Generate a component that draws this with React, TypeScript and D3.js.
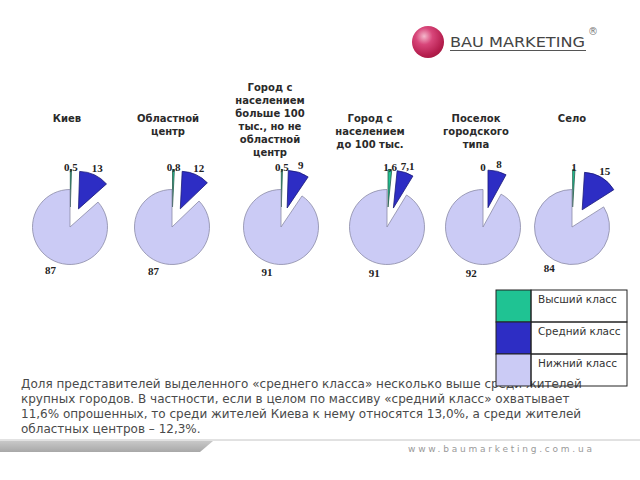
import React from "react";
import * as d3 from "d3";

// category titles, already broken into lines as on the slide
const categoryTitles: string[][] = [
  ["Киев"],
  ["Областной", "центр"],
  ["Город с", "населением", "больше 100", "тыс., но не", "областной", "центр"],
  ["Город с", "населением", "до 100 тыс."],
  ["Поселок", "городского", "типа"],
  ["Село"],
];

// share of each class, %
const upperClass = [0.5, 0.8, 0.5, 1.6, 0, 1];
const middleClass = [13, 12, 9, 7.1, 8, 15];
const lowerClass = [87, 87, 91, 91, 92, 84];

const classNames = ["Высший класс", "Средний класс", "Нижний класс"];

const noteLines = [
  "Доля представителей выделенного «среднего класса» несколько выше среди жителей",
  "крупных городов. В частности, если в целом по массиву «средний класс» охватывает",
  "11,6% опрошенных, то среди жителей Киева к нему относятся 13,0%, а среди жителей",
  "областных центров – 12,3%.",
];

const siteUrl = "www.baumarketing.com.ua";

// layout
const W = 640;
const H = 480;
const pieX = [70, 172, 281, 387, 483, 572];
const titleX = [67, 168, 270, 370, 476, 572];
const pieY = 227;
const R = 37.5;
const EXPLODE = 20;
const colors = ["#1fc393", "#2d2dc4", "#cbcbf5"];
const strokes = ["#2c5a4c", "#1b1b78", "#8a8aa6"];
const labelDist = [R + 22, R + 27, R + 10];

const fmt = (v: number) => String(v).replace(".", ",");

const pie = d3
  .pie<number>()
  .value((d) => d)
  .sort(null);

const arc = d3
  .arc<d3.PieArcDatum<number>>()
  .innerRadius(0)
  .outerRadius(R);

const PieChart = ({ index }: { index: number }) => {
  const values = [upperClass[index], middleClass[index], lowerClass[index]];
  const arcs = pie(values);
  return (
    <g transform={`translate(${pieX[index]},${pieY})`}>
      {arcs.map((a, k) => {
        if (a.value === 0) return null;
        const mid = (a.startAngle + a.endAngle) / 2;
        const off = k < 2 ? EXPLODE : 0;
        return (
          <path
            key={k}
            d={arc(a) || ""}
            transform={`translate(${Math.sin(mid) * off},${-Math.cos(mid) * off})`}
            fill={colors[k]}
            stroke={strokes[k]}
            strokeWidth={0.8}
          />
        );
      })}
      {arcs.map((a, k) => {
        const mid = (a.startAngle + a.endAngle) / 2;
        const d = labelDist[k];
        return (
          <text
            key={"l" + k}
            x={Math.sin(mid) * d}
            y={-Math.cos(mid) * d}
            dy="0.35em"
            textAnchor="middle"
            fontFamily="'Liberation Serif', serif"
            fontWeight="bold"
            fontSize={11}
            fill="#222"
          >
            {fmt(a.data)}
          </text>
        );
      })}
    </g>
  );
};

const Title = ({ index }: { index: number }) => {
  const lines = categoryTitles[index];
  const top = lines.length > 3 ? 87 : 118;
  return (
    <text
      textAnchor="middle"
      fontFamily="'DejaVu Sans', sans-serif"
      fontWeight="bold"
      fontSize={10}
      fill="#2a2a2a"
    >
      {lines.map((l, i) => (
        <tspan key={i} x={titleX[index]} y={top + i * 13} dy="0.35em">
          {l}
        </tspan>
      ))}
    </text>
  );
};

const Legend = () => {
  const x0 = 496;
  const y0 = 290;
  const sw = 35;
  const w = 131;
  const rh = 32;
  return (
    <g>
      {classNames.map((name, i) => (
        <g key={i}>
          <rect x={x0} y={y0 + i * rh} width={sw} height={rh} fill={colors[i]} stroke="#222" strokeWidth={1} />
          <rect x={x0 + sw} y={y0 + i * rh} width={w - sw} height={rh} fill="none" stroke="#222" strokeWidth={1} />
          <text
            x={x0 + sw + 7}
            y={y0 + i * rh + 13}
            fontFamily="'DejaVu Sans', sans-serif"
            fontSize={10.5}
            fill="#333"
          >
            {name}
          </text>
        </g>
      ))}
    </g>
  );
};

const Logo = () => (
  <g>
    <defs>
      <radialGradient id="ball" cx="0.38" cy="0.32" r="0.75">
        <stop offset="0" stopColor="#f4b8cc" />
        <stop offset="0.35" stopColor="#d8467a" />
        <stop offset="0.8" stopColor="#b51e4e" />
        <stop offset="1" stopColor="#a3183f" />
      </radialGradient>
    </defs>
    <circle cx={428} cy={42} r={16} fill="url(#ball)" />
    <text
      x={450}
      y={47}
      fontFamily="'DejaVu Sans', sans-serif"
      fontSize={14}
      textLength={135}
      lengthAdjust="spacingAndGlyphs"
      fill="#444"
    >
      BAU MARKETING
    </text>
    <line x1={450} x2={586} y1={50.5} y2={50.5} stroke="#555" strokeWidth={1} />
    <text x={593} y={35} textAnchor="middle" fontFamily="'DejaVu Sans', sans-serif" fontSize={10} fill="#777">
      ®
    </text>
  </g>
);

const App = () => {
  return (
    <svg
      width={W}
      height={H}
      style={{ position: "absolute", left: 0, top: 0, background: "#fff" }}
    >
      <defs>
        <linearGradient id="bar" x1="0" x2="0" y1="0" y2="1">
          <stop offset="0" stopColor="#c8c8c8" />
          <stop offset="1" stopColor="#a8a8a8" />
        </linearGradient>
      </defs>
      <rect width={W} height={H} fill="#fff" />
      <Logo />
      {categoryTitles.map((_, i) => (
        <Title key={i} index={i} />
      ))}
      {categoryTitles.map((_, i) => (
        <PieChart key={i} index={i} />
      ))}
      <text fontFamily="'DejaVu Sans', sans-serif" fontSize={12} fill="#4a4a4a">
        {noteLines.map((l, i) => (
          <tspan key={i} x={21} y={388 + i * 15}>
            {l}
          </tspan>
        ))}
      </text>
      <Legend />
      <line x1={0} x2={W} y1={440} y2={440} stroke="#c4c4c4" strokeWidth={1} />
      <path d="M0,441 L213,441 L200,452 L0,452 Z" fill="url(#bar)" />
      <text
        x={408}
        y={452}
        fontFamily="'DejaVu Sans', sans-serif"
        fontSize={9}
        textLength={184}
        lengthAdjust="spacing"
        fill="#9a9a9a"
      >
        {siteUrl}
      </text>
    </svg>
  );
};

export default App;
